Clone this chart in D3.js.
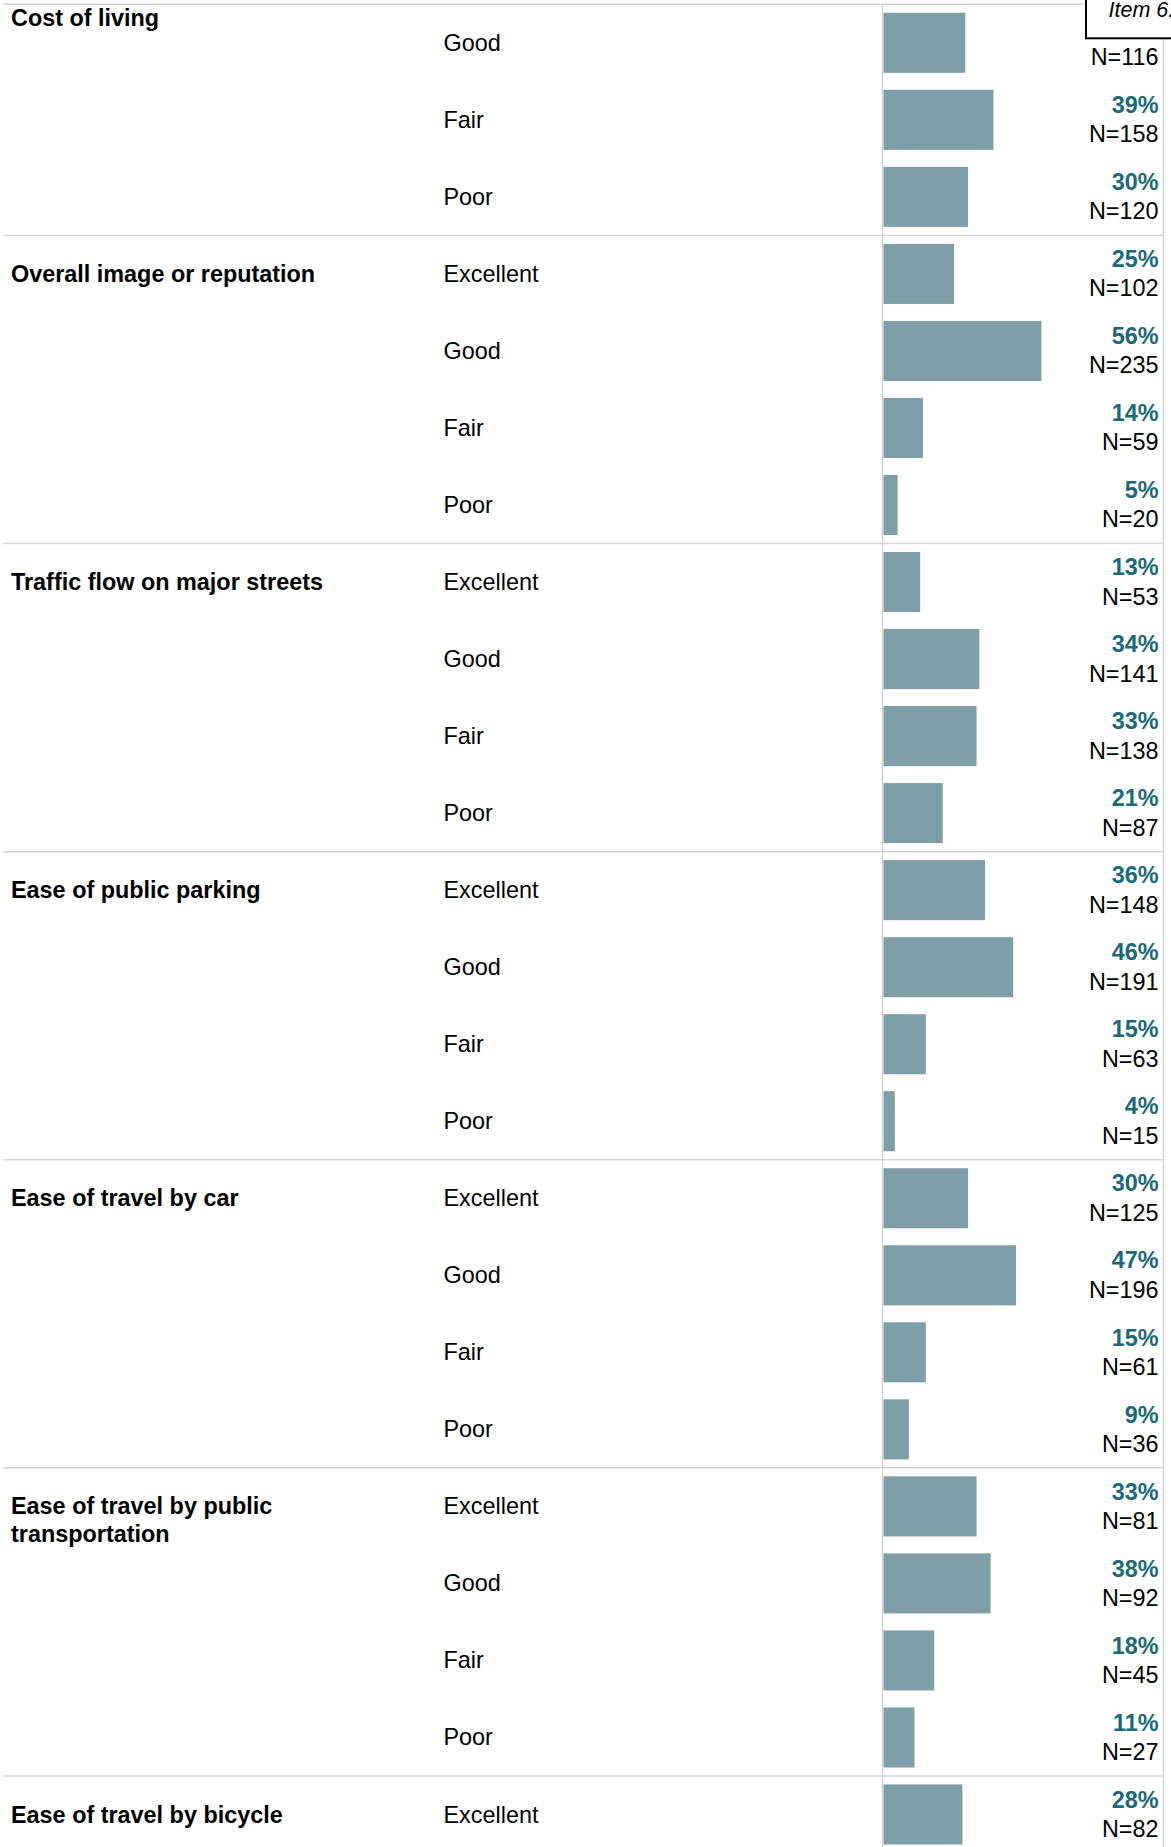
<!DOCTYPE html>
<html>
<head>
<meta charset="utf-8">
<script src="https://cdn.jsdelivr.net/npm/d3@7"></script>
<style>
  html, body { margin: 0; padding: 0; background: #fff; }
  svg { display: block; font-family: "Liberation Sans", Arial, sans-serif; }
</style>
</head>
<body>
<svg id="chart" width="1171" height="1847"></svg>
<script>
// ---- data ----
const sections = [
  "Cost of living",
  "Overall image or reputation",
  "Traffic flow on major streets",
  "Ease of public parking",
  "Ease of travel by car",
  "Ease of travel by public transportation",
  "Ease of travel by bicycle"
];
const ratings = [
  ["Good", "Fair", "Poor"],
  ["Excellent", "Good", "Fair", "Poor"],
  ["Excellent", "Good", "Fair", "Poor"],
  ["Excellent", "Good", "Fair", "Poor"],
  ["Excellent", "Good", "Fair", "Poor"],
  ["Excellent", "Good", "Fair", "Poor"],
  ["Excellent"]
];
const percents = [
  [29, 39, 30],
  [25, 56, 14, 5],
  [13, 34, 33, 21],
  [36, 46, 15, 4],
  [30, 47, 15, 9],
  [33, 38, 18, 11],
  [28]
];
const counts = [
  [116, 158, 120],
  [102, 235, 59, 20],
  [53, 141, 138, 87],
  [148, 191, 63, 15],
  [125, 196, 61, 36],
  [81, 92, 45, 27],
  [82]
];
const boxLabel = "Item 6.";

(function () {
  // ---- build rows ----
  const rows = [];
  const sectionStarts = [];
  sections.forEach((s, si) => {
    sectionStarts.push(rows.length);
    ratings[si].forEach((r, ri) => {
      rows.push({ section: si, rating: r, pct: percents[si][ri], n: counts[si][ri], idx: rows.length });
    });
  });

  // ---- layout ----
  const top0 = 4.3;
  const step = 77.03;
  const barColor = "#7f9fa8";
  const pctColor = "#1b6a77";
  const gridColor = "#d6d6d6";
  const fontSize = 23.4;

  const y = d3.scaleBand()
    .domain(rows.map(d => d.idx))
    .range([top0, top0 + rows.length * step])
    .paddingInner(0.22)
    .paddingOuter(0.11);

  const x = d3.scaleLinear().domain([0, 100]).range([883.5, 883.5 + 282]);

  const svg = d3.select("#chart");
  const rowTop = i => top0 + i * step;

  // horizontal separators
  const seps = sectionStarts.map(i => rowTop(i));
  svg.append("g").selectAll("line").data(seps).join("line")
    .attr("x1", 3).attr("x2", 1163.5)
    .attr("y1", d => d).attr("y2", d => d)
    .attr("stroke", gridColor).attr("stroke-width", 1.5);

  // vertical lines
  svg.append("g").selectAll("line").data([882.5, 1163.5]).join("line")
    .attr("x1", d => d).attr("x2", d => d)
    .attr("y1", top0).attr("y2", 1847)
    .attr("stroke", gridColor).attr("stroke-width", 1.5);

  // bars
  svg.append("g").selectAll("rect").data(rows).join("rect")
    .attr("x", x(0))
    .attr("y", d => y(d.idx))
    .attr("width", d => x(d.pct) - x(0))
    .attr("height", y.bandwidth())
    .attr("fill", barColor);

  // rating labels
  svg.append("g").selectAll("text").data(rows).join("text")
    .attr("x", 443.5)
    .attr("y", d => rowTop(d.idx) + step / 2 + 8)
    .attr("font-size", fontSize)
    .attr("fill", "#000")
    .text(d => d.rating);

  // percent labels
  svg.append("g").selectAll("text").data(rows).join("text")
    .attr("x", 1158.5)
    .attr("y", d => rowTop(d.idx) + 31.7)
    .attr("text-anchor", "end")
    .attr("font-size", fontSize)
    .attr("font-weight", "bold")
    .attr("fill", pctColor)
    .text(d => d.pct + "%");

  // N labels
  svg.append("g").selectAll("text").data(rows).join("text")
    .attr("x", 1158.5)
    .attr("y", d => rowTop(d.idx) + 61)
    .attr("text-anchor", "end")
    .attr("font-size", fontSize)
    .attr("fill", "#000")
    .text(d => "N=" + d.n);

  // section titles (wrapped)
  const titleG = svg.append("g");
  sections.forEach((s, si) => {
    const baseY = si === 0 ? 26 : rowTop(sectionStarts[si]) + step / 2 + 8;
    const t = titleG.append("text")
      .attr("x", 11).attr("y", baseY)
      .attr("font-size", fontSize).attr("font-weight", "bold").attr("fill", "#000");
    const words = s.split(" ");
    let line = [];
    let tspan = t.append("tspan").attr("x", 11).attr("dy", 0);
    words.forEach(w => {
      line.push(w);
      tspan.text(line.join(" "));
      if (tspan.node().getComputedTextLength() > 335 && line.length > 1) {
        line.pop();
        tspan.text(line.join(" "));
        line = [w];
        tspan = t.append("tspan").attr("x", 11).attr("dy", 27.5).text(w);
      }
    });
  });

  // "Item 6." box at top right
  svg.append("rect")
    .attr("x", 1086).attr("y", -10)
    .attr("width", 120).attr("height", 48.3)
    .attr("fill", "#fff").attr("stroke", "#000").attr("stroke-width", 2);
  svg.append("text")
    .attr("x", 1108.5).attr("y", 16.5)
    .attr("font-size", 21.5).attr("font-style", "italic").attr("fill", "#000")
    .text(boxLabel);
})();
</script>
</body>
</html>
